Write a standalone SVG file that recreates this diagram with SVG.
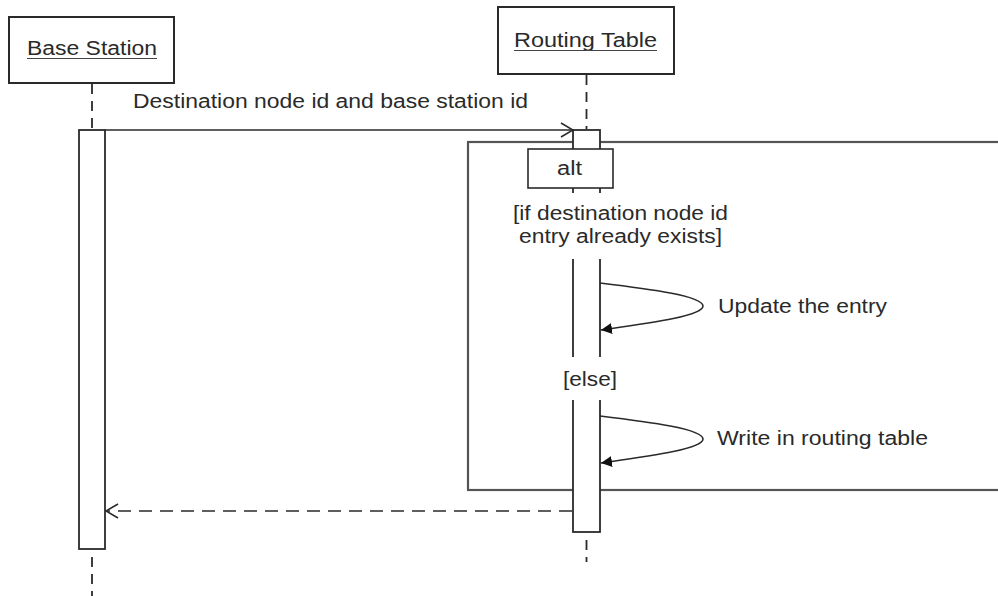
<svg xmlns="http://www.w3.org/2000/svg" width="998" height="596" viewBox="0 0 998 596">
<style>
text{font-family:"Liberation Sans",Arial,sans-serif;font-size:20px;fill:#2a2a2a}
.box{fill:#fff;stroke:#2a2a2a;stroke-width:2}
.bar{fill:#fff;stroke:#2a2a2a;stroke-width:1.8}
.life{stroke:#2a2a2a;stroke-width:1.8;stroke-dasharray:10 7;fill:none}
.msg{stroke:#2a2a2a;stroke-width:1.6;fill:none}
.ret{stroke:#2a2a2a;stroke-width:1.6;fill:none;stroke-dasharray:13 8}
.frame{fill:none;stroke:#555;stroke-width:2.2}
.ul{stroke:#444;stroke-width:1.2}
</style>
<defs>
<marker id="open" markerWidth="14" markerHeight="16" refX="13" refY="8" orient="auto" markerUnits="userSpaceOnUse">
<path d="M1,1 L13,8 L1,15" fill="none" stroke="#2a2a2a" stroke-width="1.6"/>
</marker>
<marker id="filled" markerWidth="12" markerHeight="12" refX="11" refY="6" orient="auto" markerUnits="userSpaceOnUse">
<path d="M0,0.5 L11,6 L0,11.5 Z" fill="#111"/>
</marker>
</defs>

<g id="frame">
<rect class="frame" x="468" y="142" width="540" height="348"/>
</g>

<g id="base-station">
<line class="life" x1="92" y1="84" x2="92" y2="130"/>
<line class="life" x1="92" y1="557" x2="92" y2="596"/>
<rect class="box" x="9" y="17" width="165" height="66"/>
<text x="27" y="55" textLength="130" lengthAdjust="spacingAndGlyphs">Base Station</text>
<line class="ul" x1="27" y1="58.5" x2="157" y2="58.5"/>
<rect class="bar" x="79" y="130" width="26" height="419"/>
</g>

<g id="routing-table">
<line class="life" x1="586.5" y1="75" x2="586.5" y2="129"/>
<line class="life" x1="586.5" y1="540" x2="586.5" y2="562"/>
<rect class="box" x="498" y="7" width="176" height="67"/>
<text x="514" y="47" textLength="143" lengthAdjust="spacingAndGlyphs">Routing Table</text>
<line class="ul" x1="514" y1="50.5" x2="657" y2="50.5"/>
<rect class="bar" x="573" y="130" width="27" height="402"/>
</g>

<g id="alt-label">
<rect x="528" y="149" width="85" height="39" fill="#fff" stroke="#2a2a2a" stroke-width="1.6"/>
<text x="557" y="175" textLength="25" lengthAdjust="spacingAndGlyphs">alt</text>
</g>

<g id="guard-1">
<rect x="508" y="193" width="227" height="66" fill="#fff"/>
<text x="513" y="220" textLength="215" lengthAdjust="spacingAndGlyphs">[if destination node id</text>
<text x="519" y="243" textLength="203" lengthAdjust="spacingAndGlyphs">entry already exists]</text>
</g>

<g id="guard-else">
<rect x="558" y="357" width="64" height="43" fill="#fff"/>
<text x="563" y="386" textLength="54" lengthAdjust="spacingAndGlyphs">[else]</text>
</g>

<g id="connectors">
<line class="msg" x1="105" y1="130" x2="573" y2="130" marker-end="url(#open)"/>
<text x="133" y="108" textLength="395" lengthAdjust="spacingAndGlyphs">Destination node id and base station id</text>
<path class="msg" d="M600,283 C650,289 703,296 703,306 C703,316 650,323 601,330" marker-end="url(#filled)"/>
<text x="718" y="313" textLength="169" lengthAdjust="spacingAndGlyphs">Update the entry</text>
<path class="msg" d="M600,416 C650,422 703,429 703,439 C703,449 650,456 601,463" marker-end="url(#filled)"/>
<text x="717" y="445" textLength="211" lengthAdjust="spacingAndGlyphs">Write in routing table</text>
<line class="ret" x1="572" y1="511" x2="106" y2="511" marker-end="url(#open)"/>
</g>
</svg>
